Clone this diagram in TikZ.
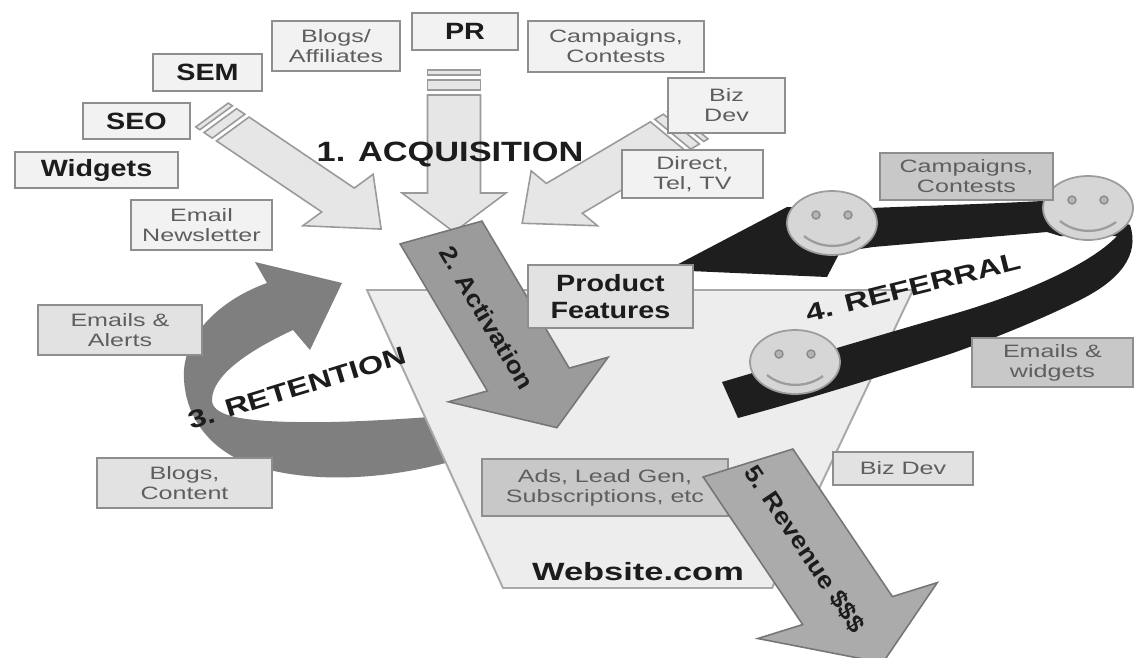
\documentclass[tikz,border=0pt]{standalone}
\usepackage{fontspec}
\setmainfont{Liberation Sans}
\usepackage{graphicx}

% colours
\definecolor{boxline}{HTML}{8E8E8E}
\definecolor{boxfill}{HTML}{F2F2F2}
\definecolor{boxmid}{HTML}{E2E2E2}
\definecolor{boxdark}{HTML}{C8C8C8}
\definecolor{labelgray}{HTML}{5E5E5E}
\definecolor{labeldark}{HTML}{1C1C1C}
\definecolor{acqfill}{HTML}{E6E6E6}
\definecolor{acqline}{HTML}{9A9A9A}
\definecolor{actfill}{HTML}{9B9B9B}
\definecolor{actline}{HTML}{767676}
\definecolor{revfill}{HTML}{ABABAB}
\definecolor{retfill}{HTML}{7F7F7F}
\definecolor{refblack}{HTML}{1E1E1E}
\definecolor{sitefill}{HTML}{EDEDED}
\definecolor{siteline}{HTML}{A8A8A8}
\definecolor{facefill}{HTML}{D6D6D6}
\definecolor{faceline}{HTML}{9C9C9C}
\definecolor{eyefill}{HTML}{B4B4B4}
\definecolor{eyeline}{HTML}{8A8A8A}

% type sizes (1 unit = 0.02cm)
\newcommand\smalltxt{\fontsize{10.2}{11.4}\selectfont}
\newcommand\boldtxt{\fontsize{13.4}{15.3}\selectfont\bfseries}
\newcommand\titletxt{\fontsize{14.2}{16}\selectfont\bfseries}
\newcommand\arrowtxt{\fontsize{13.6}{15}\selectfont\bfseries}
\newcommand\acqtxt{\fontsize{15.9}{18}\selectfont\bfseries}
% the lettering is set wide
\newcommand\ws[1]{\scalebox{1.4}[1]{#1}}
\newcommand\wb[1]{\scalebox{1.22}[1]{#1}}
\newcommand\wt[2]{\scalebox{#1}[1]{#2}}

% broad block arrow: [tail offset]{style}{tail centre}{angle}{slant}{length}{half shaft}{head length}{half head}
\newcommand\fatarrow[9][0]{%
  \draw[#2, shift={#3}, rotate={-(#4)}, xslant=#5]
    (#1,-#7) -- ({#6-#8},-#7) -- ({#6-#8},-#9) -- (#6,0)
    -- ({#6-#8},#9) -- ({#6-#8},#7) -- (#1,#7) -- cycle;}
% two thin bands at the tail of a block arrow: {style}{tail centre}{angle}{slant}{half width}
\newcommand\arrowbands[5]{%
  \draw[#1, shift={#2}, rotate={-(#3)}, xslant=#4]
    (0,-#5) -- (5,-#5) -- (5,#5) -- (0,#5) -- cycle
    (10,-#5) -- (20,-#5) -- (20,#5) -- (10,#5) -- cycle;}

\tikzset{
  boxsize/.style 2 args={minimum width={#1*0.02cm}, minimum height={#2*0.02cm}},
  lightbox/.style={draw=boxline, fill=boxfill, line width=1.1pt, inner sep=0pt,
    align=center, font=\smalltxt, text=labelgray},
  midbox/.style={lightbox, fill=boxmid},
  darkbox/.style={lightbox, fill=boxdark},
  boldlabel/.style={font=\boldtxt, text=labeldark},
  acqarrow/.style={fill=acqfill, draw=acqline, line width=0.9pt},
  actarrow/.style={fill=actfill, draw=actline, line width=0.9pt},
  revarrow/.style={fill=revfill, draw=actline, line width=0.9pt},
  steplabel/.style={font=\titletxt, text=labeldark, inner sep=0pt},
  arrowlabel/.style={font=\arrowtxt, text=labeldark, inner sep=0pt},
  pics/smiley/.style={code={
    \filldraw[fill=facefill, draw=faceline, line width=1pt]
      (0,0) ellipse [x radius=45, y radius=32];
    \filldraw[fill=eyefill, draw=eyeline, line width=0.8pt]
      (-16,-8) circle [radius=4] (16,-8) circle [radius=4];
    \draw[faceline, line width=1.3pt]
      (-28,13) .. controls (-12,26) and (12,26) .. (28,14);
  }},
}

\begin{document}
\begin{tikzpicture}[x=0.02cm, y=-0.02cm]
\useasboundingbox (0,0) rectangle (1134,657);
\fill[white] (0,0) rectangle (1134,657);
\clip (0,0) rectangle (1134,657);

% retention loop
\fill[retfill] (470,456) .. controls (400,478) and (320,486) .. (255,466)
  .. controls (205,450) and (182,410) .. (184,370)
  .. controls (187,330) and (225,298) .. (267,283)
  -- (255,262) -- (342,283) -- (310,350) -- (293,330)
  .. controls (250,350) and (212,375) .. (212,400)
  .. controls (212,418) and (250,423) .. (330,422)
  .. controls (380,421) and (430,417) .. (470,414) -- cycle;

% the website funnel
\filldraw[fill=sitefill, draw=siteline, line width=1.1pt]
  (367,290) -- (913,290) -- (772,588) -- (503,588) -- cycle;

% acquisition arrows
\arrowbands{acqarrow}{(212,115)}{34}{0.36}{19}
\fatarrow[25]{acqarrow}{(212,115)}{34}{0.36}{204}{19}{52}{41}
\arrowbands{acqarrow}{(454,70)}{90}{0}{26.5}
\fatarrow[25]{acqarrow}{(454,70)}{90}{0}{162}{26.5}{39}{52}
\arrowbands{acqarrow}{(690,124)}{149.4}{-0.36}{22}
\fatarrow[25]{acqarrow}{(690,124)}{149.4}{-0.36}{195}{22}{49}{40.5}

% referral loop
\fill[refblack] (667,270) -- (787,207) -- (870,208)
  .. controls (950,205) and (1010,203) .. (1060,200) -- (1130,225)
  .. controls (1140,255) and (1120,280) .. (1080,300)
  .. controls (1040,320) and (990,340) .. (950,354)
  .. controls (900,370) and (830,393) .. (738,418)
  -- (722,382)
  .. controls (790,362) and (880,335) .. (950,315)
  .. controls (1020,295) and (1090,265) .. (1117,236)
  -- (1060,236) -- (1047,232)
  .. controls (990,237) and (930,242) .. (873,247)
  -- (840,252) -- (827,277) -- cycle;

% activation arrow
\fatarrow{actarrow}{(441,232.5)}{59.3}{0.27}{227}{41}{56}{80}

% referrers
\pic (face1) at (832,223) {smiley};
\pic (face2) at (1088,208) {smiley};
\pic (face3) at (795,362) {smiley};

% channel boxes
\node[lightbox, boxsize={128}{50}] (blogs) at (336,46) {\ws{Blogs/}\\\ws{Affiliates}};
\node[lightbox, boldlabel, boxsize={106}{37}] (pr) at (465,31.5) {\wb{PR}};
\node[lightbox, boxsize={176}{51}] (campA) at (616,46.5) {\ws{Campaigns,}\\\ws{Contests}};
\node[lightbox, boldlabel, boxsize={109}{37}] (sem) at (207.5,72.5) {\wb{SEM}};
\node[lightbox, boldlabel, boxsize={107}{36}] (seo) at (136.5,121) {\wb{SEO}};
\node[lightbox, boldlabel, boxsize={163}{36}] (widgets) at (96.5,170) {\wb{Widgets}};
\node[lightbox, boxsize={141}{50}] (newsletter) at (201.5,225) {\ws{Email}\\\ws{Newsletter}};
\node[lightbox, boxsize={117}{55}] (bizA) at (726.5,105.5) {\ws{Biz}\\\ws{Dev}};
\node[lightbox, boxsize={141}{48}] (direct) at (692.5,174) {\ws{Direct,}\\\ws{Tel, TV}};
\node[darkbox, boxsize={173}{47}] (campB) at (966.5,176.5) {\ws{Campaigns,}\\\ws{Contests}};
\node[darkbox, boxsize={161}{49}] (mailwidgets) at (1052.5,362.5) {\ws{Emails \&}\\\ws{widgets}};
\node[midbox, boldlabel, boxsize={165}{63}] (product) at (610.5,296.5) {\wb{Product}\\\wb{Features}};
\node[midbox, boxsize={164}{50}] (alerts) at (120,330) {\ws{Emails \&}\\\ws{Alerts}};
\node[midbox, boxsize={175}{50}] (content) at (184.5,483) {\ws{Blogs,}\\\ws{Content}};
\node[darkbox, boxsize={246}{57}] (ads) at (605,487.5) {\ws{Ads, Lead Gen,}\\\ws{Subscriptions, etc}};
\node[midbox, boxsize={140}{33}] (bizB) at (903,468.5) {\ws{Biz Dev}};

% revenue arrow
\fatarrow{revarrow}{(748,463)}{56}{0.3}{241}{45}{63}{90}

% stage labels
\node[font=\acqtxt, text=labeldark, inner sep=0pt] (acq) at (450,154) {\wt{1.23}{1. ACQUISITION}};
\node[arrowlabel, rotate=-59.3] (act) at (487,318) {\wt{1.12}{2. Activation}};
\node[steplabel, rotate=17] (ret) at (297,388) {\wt{1.3}{3. RETENTION}};
\node[steplabel, rotate=14] (ref) at (913,287) {\wt{1.33}{4. REFERRAL}};
\node[arrowlabel, rotate=-56] (rev) at (805,549) {\wt{1.12}{5. Revenue \$\$\$}};
\node[steplabel] (site) at (638,572) {\wt{1.38}{Website.com}};
\end{tikzpicture}
\end{document}
